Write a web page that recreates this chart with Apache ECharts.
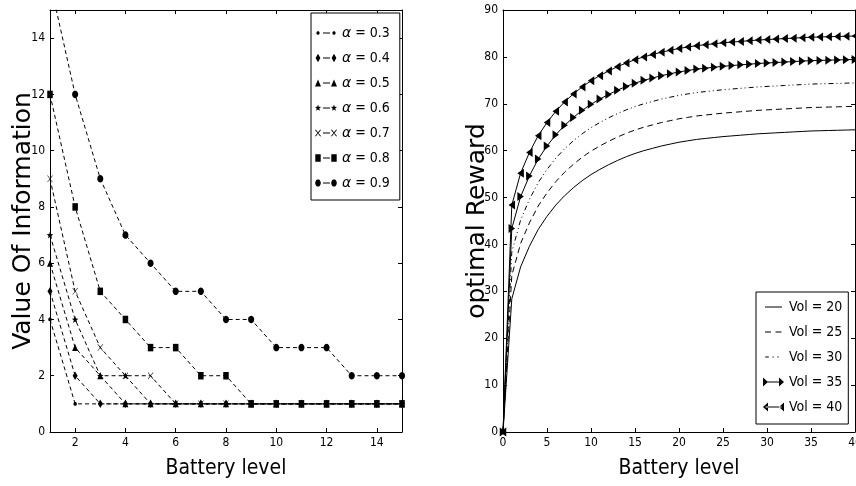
<!DOCTYPE html>
<html>
<head>
<meta charset="utf-8">
<script src="https://cdn.jsdelivr.net/npm/echarts@6/dist/echarts.min.js"></script>
<style>
  html, body { margin: 0; padding: 0; background: #fff; }
  #chart { width: 856px; height: 486px; }
</style>
</head>
<body>
<div id="chart"></div>
<script>
// ---- Left panel: value of information vs battery level, one curve per alpha ----
const batteryLevels = [1, 2, 3, 4, 5, 6, 7, 8, 9, 10, 11, 12, 13, 14, 15];
const alphaNames = ['α = 0.3', 'α = 0.4', 'α = 0.5', 'α = 0.6', 'α = 0.7', 'α = 0.8', 'α = 0.9'];
const voiAlpha03 = [4, 1, 1, 1, 1, 1, 1, 1, 1, 1, 1, 1, 1, 1, 1];
const voiAlpha04 = [5, 2, 1, 1, 1, 1, 1, 1, 1, 1, 1, 1, 1, 1, 1];
const voiAlpha05 = [6, 3, 2, 1, 1, 1, 1, 1, 1, 1, 1, 1, 1, 1, 1];
const voiAlpha06 = [7, 4, 2, 2, 1, 1, 1, 1, 1, 1, 1, 1, 1, 1, 1];
const voiAlpha07 = [9, 5, 3, 2, 2, 1, 1, 1, 1, 1, 1, 1, 1, 1, 1];
const voiAlpha08 = [12, 8, 5, 4, 3, 3, 2, 2, 1, 1, 1, 1, 1, 1, 1];
const voiAlpha09 = [16, 12, 9, 7, 6, 5, 5, 4, 4, 3, 3, 3, 2, 2, 2];
const leftXTicks = [2, 4, 6, 8, 10, 12, 14];
const leftYTicks = [0, 2, 4, 6, 8, 10, 12, 14];

// ---- Right panel: optimal reward vs battery level, one curve per volume ----
const batterySteps = [0, 1, 2, 3, 4, 5, 6, 7, 8, 9, 10, 11, 12, 13, 14, 15, 16, 17, 18, 19, 20,
  21, 22, 23, 24, 25, 26, 27, 28, 29, 30, 31, 32, 33, 34, 35, 36, 37, 38, 39, 40];
const volNames = ['Vol = 20', 'Vol = 25', 'Vol = 30', 'Vol = 35', 'Vol = 40'];
const rewardVol20 = [0, 28.4, 35.2, 39.6, 43.2, 46.0, 48.4, 50.4, 52.1, 53.6, 54.9, 56.0, 57.0, 57.9, 58.7, 59.4,
  60.0, 60.5, 61.0, 61.4, 61.8, 62.1, 62.4, 62.6, 62.8, 63.0, 63.15, 63.3, 63.45, 63.6, 63.7, 63.8, 63.9, 64.0,
  64.1, 64.2, 64.25, 64.3, 64.35, 64.4, 64.45];
const rewardVol25 = [0, 33.4, 40.2, 44.6, 48.2, 51.0, 53.4, 55.4, 57.1, 58.6, 59.9, 61.0, 62.0, 62.9, 63.7, 64.4,
  65.0, 65.5, 66.0, 66.4, 66.8, 67.1, 67.4, 67.6, 67.8, 68.0, 68.15, 68.3, 68.45, 68.6, 68.7, 68.8, 68.9, 69.0,
  69.1, 69.2, 69.25, 69.3, 69.35, 69.4, 69.45];
const rewardVol30 = [0, 38.4, 45.2, 49.6, 53.2, 56.0, 58.4, 60.4, 62.1, 63.6, 64.9, 66.0, 67.0, 67.9, 68.7, 69.4,
  70.0, 70.5, 71.0, 71.4, 71.8, 72.1, 72.4, 72.6, 72.8, 73.0, 73.15, 73.3, 73.45, 73.6, 73.7, 73.8, 73.9, 74.0,
  74.1, 74.2, 74.25, 74.3, 74.35, 74.4, 74.45];
const rewardVol35 = [0, 43.4, 50.2, 54.6, 58.2, 61.0, 63.4, 65.4, 67.1, 68.6, 69.9, 71.0, 72.0, 72.9, 73.7, 74.4,
  75.0, 75.5, 76.0, 76.4, 76.8, 77.1, 77.4, 77.6, 77.8, 78.0, 78.15, 78.3, 78.45, 78.6, 78.7, 78.8, 78.9, 79.0,
  79.1, 79.2, 79.25, 79.3, 79.35, 79.4, 79.45];
const rewardVol40 = [0, 48.4, 55.2, 59.6, 63.2, 66.0, 68.4, 70.4, 72.1, 73.6, 74.9, 76.0, 77.0, 77.9, 78.7, 79.4,
  80.0, 80.5, 81.0, 81.4, 81.8, 82.1, 82.4, 82.6, 82.8, 83.0, 83.15, 83.3, 83.45, 83.6, 83.7, 83.8, 83.9, 84.0,
  84.1, 84.2, 84.25, 84.3, 84.35, 84.4, 84.45];
const rightXTicks = [0, 5, 10, 15, 20, 25, 30, 35, 40];
const rightYTicks = [0, 10, 20, 30, 40, 50, 60, 70, 80, 90];

// ---- Marker shapes (path strings) ----
function poly(pts) {
  return pts.map((p, i) => (i ? 'L' : 'M') + p[0].toFixed(2) + ' ' + p[1].toFixed(2)).join(' ') + ' Z ';
}
function ellipse(cx, cy, rx, ry) {
  const pts = [];
  for (let k = 0; k < 20; k++) {
    const a = 2 * Math.PI * k / 20;
    pts.push([cx + rx * Math.cos(a), cy + ry * Math.sin(a)]);
  }
  return poly(pts);
}
function diamond(cx, cy, rx, ry) { return poly([[cx, cy - ry], [cx + rx, cy], [cx, cy + ry], [cx - rx, cy]]); }
function triUp(cx, cy, rx, ry) { return poly([[cx, cy - ry], [cx + rx, cy + ry], [cx - rx, cy + ry]]); }
function triRight(cx, cy, rx, ry) { return poly([[cx - rx, cy - ry], [cx + rx, cy], [cx - rx, cy + ry]]); }
function triLeft(cx, cy, rx, ry) { return poly([[cx + rx, cy - ry], [cx - rx, cy], [cx + rx, cy + ry]]); }
function box(cx, cy, rx, ry) { return poly([[cx - rx, cy - ry], [cx + rx, cy - ry], [cx + rx, cy + ry], [cx - rx, cy + ry]]); }
function star(cx, cy, rx, ry) {
  const pts = [];
  for (let k = 0; k < 10; k++) {
    const a = -Math.PI / 2 + Math.PI * k / 5;
    const r = k % 2 ? 0.42 : 1;
    pts.push([cx + rx * r * Math.cos(a), cy + ry * r * Math.sin(a)]);
  }
  return poly(pts);
}
function stroke(x0, y0, x1, y1, t) {
  const dx = x1 - x0, dy = y1 - y0, L = Math.hypot(dx, dy);
  const nx = -dy / L * t / 2, ny = dx / L * t / 2;
  return poly([[x0 + nx, y0 + ny], [x1 + nx, y1 + ny], [x1 - nx, y1 - ny], [x0 - nx, y0 - ny]]);
}
function cross(cx, cy, rx, ry) {
  const t = 0.9;
  return stroke(cx - rx, cy - ry, cx + rx, cy + ry, t) + stroke(cx + rx, cy - ry, cx - rx, cy + ry, t);
}

// marker shape + on-chart size for each alpha curve
const alphaMarkers = [
  { fn: ellipse, size: [3.5, 4], leg: [1.6, 1.8] },
  { fn: diamond, size: [5, 8.5], leg: [2.4, 4.2] },
  { fn: triUp, size: [6, 7], leg: [3, 3.4] },
  { fn: star, size: [6.5, 7], leg: [3.2, 3.5] },
  { fn: cross, size: [5.5, 7], leg: [2.6, 3.3] },
  { fn: box, size: [5.5, 7.5], leg: [2.7, 3.8] },
  { fn: ellipse, size: [6, 7.5], leg: [2.8, 3.6] }
];
const alphaData = [voiAlpha03, voiAlpha04, voiAlpha05, voiAlpha06, voiAlpha07, voiAlpha08, voiAlpha09];

// legend glyphs, bounding box pinned to w x h by two empty corner points
function pinned(w, h) {
  return 'path://M0 0 L0 0 Z M' + w + ' ' + h + ' L' + w + ' ' + h + ' Z ';
}
function pairIcon(fn, rx, ry, w, h, gap) {
  const cy = h / 2;
  return pinned(w, h) + fn(3, cy, rx, ry) + fn(w - 3, cy, rx, ry) +
    box((gap[0] + gap[1]) / 2, cy, (gap[1] - gap[0]) / 2, 0.5);
}
const volIcons = [
  pinned(21, 9) + box(10.5, 4.5, 8.5, 0.5),
  pinned(21, 9) + box(5, 4.5, 3, 0.5) + box(15.5, 4.5, 3, 0.5),
  pinned(21, 9) + box(4, 4.5, 1.8, 0.5) + box(10, 4.5, 0.6, 0.5) + box(15, 4.5, 0.6, 0.5),
  pinned(21, 9) + triRight(2.5, 4.5, 2.5, 4.5) + triRight(18.5, 4.5, 2.5, 4.5) + box(10.5, 4.5, 8, 0.5),
  pinned(21, 9) + triLeft(2.5, 4.5, 2.5, 4.5) + triLeft(18.5, 4.5, 2.5, 4.5) + box(10.5, 4.5, 8, 0.5)
];

const NARROW = "'DejaVu Sans Condensed', 'Liberation Sans', sans-serif";
const TITLE_FONT = "'DejaVu Sans', sans-serif";

function frameAxis(gridIndex, position, min, max, ticks, labelled, name, nameGap, rotated) {
  const ax = {
    type: 'value', gridIndex, position, min, max,
    axisLine: { show: true, onZero: false, lineStyle: { color: '#000', width: 1 } },
    axisTick: { show: true, inside: true, length: 4, customValues: ticks, lineStyle: { color: '#000', width: 1 } },
    axisLabel: {
      show: labelled, customValues: ticks, margin: 5,
      color: '#000', fontFamily: NARROW, fontSize: 12
    },
    splitLine: { show: false }
  };
  if (name) {
    ax.name = name;
    ax.nameLocation = 'middle';
    ax.nameGap = nameGap;
    ax.nameMoveOverlap = false;
    ax.nameTextStyle = rotated
      ? { fontFamily: TITLE_FONT, fontSize: 25, color: '#000' }
      : { fontFamily: NARROW, fontSize: 21, color: '#000' };
  }
  return ax;
}

const series = [];
alphaData.forEach((vals, i) => {
  const m = alphaMarkers[i];
  series.push({
    name: alphaNames[i], type: 'line', xAxisIndex: 0, yAxisIndex: 0,
    data: batteryLevels.map((x, k) => [x, vals[k]]),
    symbol: 'path://' + m.fn(0, 0, 5, 5), symbolSize: m.size, symbolKeepAspect: false,
    showAllSymbol: true, clip: true,
    lineStyle: { color: '#000', width: 1, type: [4, 3] },
    itemStyle: { color: '#000' },
    emphasis: { disabled: true }
  });
});

const volData = [rewardVol20, rewardVol25, rewardVol30, rewardVol35, rewardVol40];
const volDash = ['solid', [6, 4], [5, 3, 1, 3, 1, 3], 'solid', 'solid'];
const volSymbol = ['none', 'none', 'none', 'path://' + triRight(0, 0, 5, 5), 'path://' + triLeft(0, 0, 5, 5)];
volData.forEach((vals, i) => {
  series.push({
    name: volNames[i], type: 'line', xAxisIndex: 2, yAxisIndex: 2,
    data: batterySteps.map((x, k) => [x, vals[k]]),
    symbol: volSymbol[i], symbolSize: [6.5, 9], symbolKeepAspect: false,
    showAllSymbol: true, clip: true,
    lineStyle: { color: '#000', width: 1, type: volDash[i] },
    itemStyle: { color: '#000' },
    emphasis: { disabled: true }
  });
});

const option = {
  animation: false,
  backgroundColor: '#fff',
  grid: [
    { left: 50, top: 10, width: 352, height: 422, outerBoundsMode: 'none', containLabel: false },
    { left: 503, top: 10, width: 352, height: 422, outerBoundsMode: 'none', containLabel: false }
  ],
  xAxis: [
    frameAxis(0, 'bottom', 1, 15, leftXTicks, true, 'Battery level', 26, false),
    frameAxis(0, 'top', 1, 15, leftXTicks, false),
    frameAxis(1, 'bottom', 0, 40, rightXTicks, true, 'Battery level', 26, false),
    frameAxis(1, 'top', 0, 40, rightXTicks, false)
  ],
  yAxis: [
    frameAxis(0, 'left', 0, 15, leftYTicks, true, 'Value Of Information', 14, true),
    frameAxis(0, 'right', 0, 15, leftYTicks, false),
    frameAxis(1, 'left', 0, 90, rightYTicks, true, 'optimal Reward', 13, true),
    frameAxis(1, 'right', 0, 90, rightYTicks, false)
  ],
  legend: [
    {
      data: alphaNames.map((n, i) => ({
        name: n,
        icon: pairIcon(alphaMarkers[i].fn, alphaMarkers[i].leg[0], alphaMarkers[i].leg[1], 22, 9, [8, 15])
      })),
      orient: 'vertical', left: 311, top: 13,
      padding: [11, 10, 8, 4], itemWidth: 22, itemHeight: 9, itemGap: 7,
      borderColor: '#000', borderWidth: 1, backgroundColor: '#fff',
      selectedMode: false,
      formatter: n => '{a|α}{b|' + n.slice(1) + '}',
      textStyle: {
        fontFamily: NARROW, fontSize: 14, color: '#000', lineHeight: 18,
        rich: {
          a: { fontFamily: TITLE_FONT, fontStyle: 'italic', fontSize: 14, color: '#000', lineHeight: 18 },
          b: { fontFamily: NARROW, fontSize: 14, color: '#000', lineHeight: 18 }
        }
      }
    },
    {
      data: volNames.map((n, i) => ({ name: n, icon: volIcons[i] })),
      orient: 'vertical', left: 756, top: 292,
      padding: [6, 6, 8, 7], itemWidth: 21, itemHeight: 9, itemGap: 7,
      borderColor: '#000', borderWidth: 1, backgroundColor: '#fff',
      selectedMode: false,
      textStyle: { fontFamily: NARROW, fontSize: 14, color: '#000', lineHeight: 18 }
    }
  ],
  series
};

const chart = echarts.init(document.getElementById('chart'), null, { renderer: 'canvas' });
chart.setOption(option);
</script>
</body>
</html>
